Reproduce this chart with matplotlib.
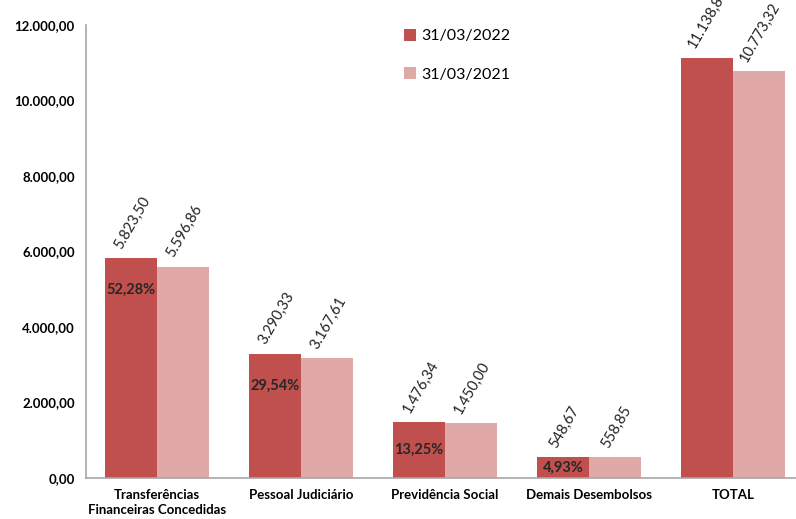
import numpy as np
import matplotlib
matplotlib.use("Agg")
import matplotlib.pyplot as plt

categories = ["Transferências\nFinanceiras Concedidas", "Pessoal Judiciário",
              "Previdência Social", "Demais Desembolsos", "TOTAL"]
values_2022 = [5823.50, 3290.33, 1476.34, 548.67, 11138.84]
values_2021 = [5596.86, 3167.61, 1450.00, 558.85, 10773.32]
shares_2022 = ["52,28%", "29,54%", "13,25%", "4,93%"]
series_labels = ["31/03/2022", "31/03/2021"]
yticks = [0, 2000, 4000, 6000, 8000, 10000, 12000]

dark = "#C0504D"
light = "#E0A9A8"

plt.rcParams["font.family"] = ["Lato", "DejaVu Sans"]


def br(v):
    # 1234.5 -> 1.234,50
    s = f"{v:,.2f}"
    return s.replace(",", "X").replace(".", ",").replace("X", ".")


fig = plt.figure(figsize=(7.96, 5.19), dpi=100)
ax = fig.add_axes([86 / 796, 41 / 519, 710 / 796, 453 / 519])

x = np.arange(len(categories))
w = 0.36
b1 = ax.bar(x - w / 2, values_2022, w, color=dark, label=series_labels[0])
b2 = ax.bar(x + w / 2, values_2021, w, color=light, label=series_labels[1])

for bars, vals in [(b1, values_2022), (b2, values_2021)]:
    for r, v in zip(bars, vals):
        ax.annotate(br(v), (r.get_x() + r.get_width() / 2, v), xytext=(1, 5),
                    textcoords="offset points", rotation=60, ha="center",
                    va="bottom", fontsize=10.5, color="#222222", annotation_clip=False)

for xi, v, s in zip(x, values_2022, shares_2022):
    ypos = max(v - 850, v / 2)
    ax.text(xi - w / 2, ypos, s, ha="center", va="center", fontsize=10.5,
            fontweight="bold", color="#262626")

ax.set_xlim(-0.493, 4.4375)
ax.set_ylim(0, 12000)
ax.set_yticks(yticks)
ax.set_yticklabels([br(t) for t in yticks], fontweight="bold", fontsize=9.5)
ax.set_xticks(x)
ax.set_xticklabels(categories, fontweight="bold", fontsize=9.5, linespacing=1.3)
ax.tick_params(length=0, pad=8)
ax.tick_params(axis="x", pad=8)

for side in ["top", "right"]:
    ax.spines[side].set_visible(False)
for side in ["left", "bottom"]:
    ax.spines[side].set_color("#A6A6A6")
    ax.spines[side].set_linewidth(1.2)

ax.legend(loc="upper left", bbox_to_anchor=(396 / 796, 1 - 21 / 519),
          bbox_transform=fig.transFigure, frameon=False, fontsize=11.5,
          handlelength=0.75, handleheight=0.75, handletextpad=0.35,
          labelspacing=1.5, borderpad=0)

fig.savefig("out.png", dpi=100)
